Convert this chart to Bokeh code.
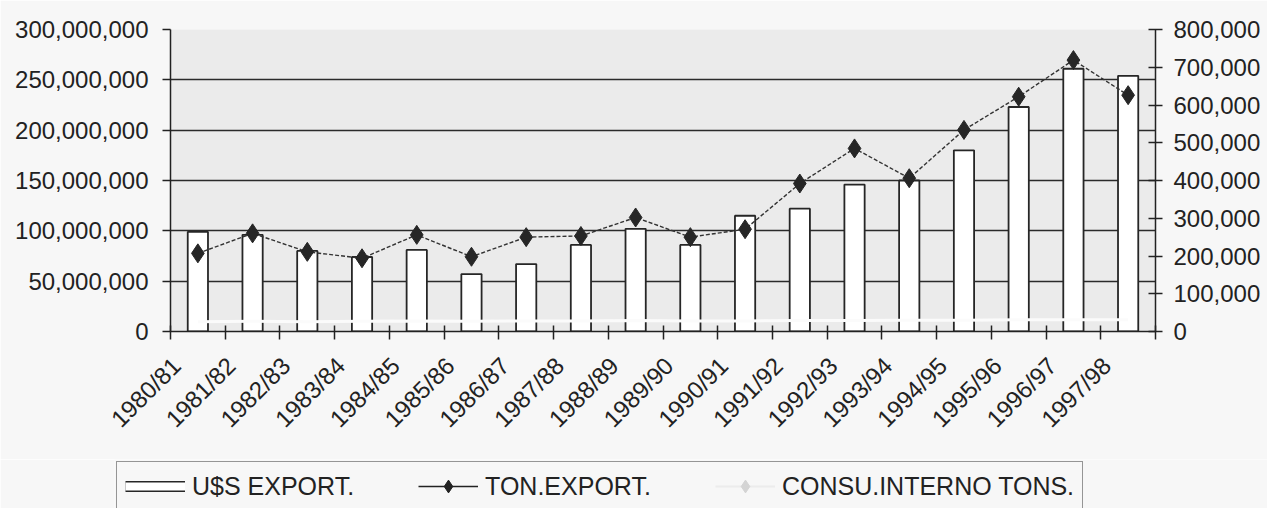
import math

from bokeh.plotting import figure
from bokeh.layouts import column
from bokeh.models import (ColumnDataSource, FixedTicker, Legend, LegendItem,
                          LinearAxis, NumeralTickFormatter, Range1d)
from bokeh.embed import file_html
from bokeh.resources import INLINE

# Campaigns (harvest seasons)
seasons = ["1980/81", "1981/82", "1982/83", "1983/84", "1984/85", "1985/86",
           "1986/87", "1987/88", "1988/89", "1989/90", "1990/91", "1991/92",
           "1992/93", "1993/94", "1994/95", "1995/96", "1996/97", "1997/98"]

# Export value in US dollars (left axis)
usd_export = [99_000_000, 96_000_000, 80_000_000, 74_000_000, 81_000_000,
              57_000_000, 67_000_000, 86_000_000, 102_000_000, 86_000_000,
              115_000_000, 122_000_000, 146_000_000, 150_000_000, 180_000_000,
              223_000_000, 261_000_000, 254_000_000]

# Exported tonnes (right axis)
ton_export = [207_000, 260_000, 211_000, 194_000, 256_000, 198_000, 250_000,
              253_000, 302_000, 250_000, 271_000, 392_000, 485_000, 406_000,
              534_000, 622_000, 719_000, 626_000]

# Domestic consumption in tonnes (right axis)
consumo_interno = [26_000, 27_000, 26_000, 27_000, 28_000, 27_000, 28_000,
                   28_000, 29_000, 28_000, 28_000, 29_000, 29_000, 30_000,
                   30_000, 31_000, 31_000, 31_000]

usd_ticks = [0, 50_000_000, 100_000_000, 150_000_000, 200_000_000,
             250_000_000, 300_000_000]
ton_ticks = [0, 100_000, 200_000, 300_000, 400_000, 500_000, 600_000,
             700_000, 800_000]

FONT = "Liberation Sans"
INK = "#222222"
PAGE = "#f7f7f7"

n = len(seasons)
centers = [i + 0.5 for i in range(n)]
# slanted labels hang a little left of their category centre
label_pos = [i + 0.11 for i in range(n)]
source = ColumnDataSource(dict(x=centers, usd=usd_export, ton=ton_export,
                               cons=consumo_interno))

p = figure(width=1267, height=459, output_backend="svg", toolbar_location=None,
           x_range=Range1d(0, n), y_range=Range1d(usd_ticks[0], usd_ticks[-1]),
           min_border_left=170, min_border_right=112, min_border_top=29,
           min_border_bottom=128, background_fill_color="#ebebeb",
           border_fill_color=PAGE, outline_line_color=None)
p.frame_align = False
p.extra_y_ranges = {"ton": Range1d(ton_ticks[0], ton_ticks[-1])}

# Horizontal gridlines between the axis limits
p.xgrid.visible = False
p.ygrid.ticker = FixedTicker(ticks=usd_ticks[1:-1])
p.ygrid.grid_line_color = "#2b2b2b"
p.ygrid.grid_line_width = 1.5

# Left axis: dollars
yl = p.yaxis[0]
yl.ticker = FixedTicker(ticks=usd_ticks)
yl.formatter = NumeralTickFormatter(format="0,0")
yl.major_tick_in = 0
yl.major_tick_out = 8
yl.minor_tick_line_color = None
yl.major_label_standoff = 14

# Right axis: tonnes
yr = LinearAxis(y_range_name="ton", ticker=FixedTicker(ticks=ton_ticks),
                formatter=NumeralTickFormatter(format="0,0"))
yr.major_tick_in = 7
yr.major_tick_out = 7
yr.minor_tick_line_color = None
yr.major_label_standoff = 11
p.add_layout(yr, "right")

# Bottom axis: labels for each season, ticks on category boundaries
xa = p.xaxis[0]
xa.ticker = FixedTicker(ticks=label_pos, minor_ticks=list(range(n + 1)))
xa.major_label_overrides = {c: s for c, s in zip(label_pos, seasons)}
xa.major_label_orientation = math.pi / 4
xa.major_tick_in = 0
xa.major_tick_out = 0
xa.minor_tick_in = 6
xa.minor_tick_out = 8
xa.major_label_standoff = 22

for ax in (yl, yr, xa):
    ax.axis_line_color = INK
    ax.axis_line_width = 1.5
    ax.major_tick_line_color = INK
    ax.major_tick_line_width = 1.5
    ax.minor_tick_line_width = 1.5
    ax.major_label_text_font = FONT
    ax.major_label_text_font_size = "24px"
    ax.major_label_text_color = INK
xa.major_tick_line_color = None
xa.minor_tick_line_color = INK

# Bars: export value
p.vbar(x="x", top="usd", width=0.37, source=source, fill_color="white",
       line_color="#262626", line_width=1.8)

# Domestic consumption line (very light)
p.line(x="x", y="cons", source=source, y_range_name="ton",
       line_color="#fbfbfb", line_width=3)

# Exported tonnes: line with diamonds
p.line(x="x", y="ton", source=source, y_range_name="ton",
       line_color="#333333", line_width=1.4, line_dash="4 2")
p.scatter(x="x", y="ton", source=source, y_range_name="ton", marker="diamond",
          size=19, fill_color="#262626", line_color="#262626")

# Legend strip under the chart
lg = figure(width=1267, height=49, output_backend="svg", toolbar_location=None,
            x_range=Range1d(0, 1), y_range=Range1d(0, 1),
            x_axis_location=None, y_axis_location=None,
            min_border=0, min_border_left=114,
            background_fill_color=PAGE, border_fill_color=PAGE,
            outline_line_color=None)
lg.frame_align = False
lg.grid.visible = False

# Legend swatches: a single point outside the visible range, so only the
# legend entry shows
off = ColumnDataSource(dict(x=[-5], y=[-5]))
box_edge = lg.line(x="x", y="y", source=off, line_color="#262626",
                   line_width=11)
box_fill = lg.line(x="x", y="y", source=off, line_color="white",
                   line_width=8)
ton_leg_line = lg.line(x="x", y="y", source=off, line_color="#222222",
                       line_width=1.6)
ton_leg_mark = lg.scatter(x="x", y="y", source=off, marker="diamond",
                          fill_color="#222222", line_color="#222222")
cons_leg_line = lg.line(x="x", y="y", source=off, line_color="#ececec",
                        line_width=2)
cons_leg_mark = lg.scatter(x="x", y="y", source=off, marker="diamond",
                           fill_color="#d4d4d4", line_color="#d4d4d4")

legend = Legend(
    items=[LegendItem(label="U$S EXPORT.", renderers=[box_edge, box_fill]),
           LegendItem(label="TON.EXPORT.", renderers=[ton_leg_line, ton_leg_mark]),
           LegendItem(label="CONSU.INTERNO TONS.",
                      renderers=[cons_leg_line, cons_leg_mark])],
    orientation="horizontal", location="top_left",
    glyph_width=60, glyph_height=32, label_standoff=7, spacing=64,
    padding=8, margin=2,
    label_text_font=FONT, label_text_font_size="25px", label_text_color=INK,
    border_line_color="#333333", border_line_width=1.5,
    background_fill_color=PAGE, background_fill_alpha=1.0)
lg.add_layout(legend, "center")

layout = column(p, lg, spacing=0)
open("out.html", "w").write(file_html(layout, INLINE))
